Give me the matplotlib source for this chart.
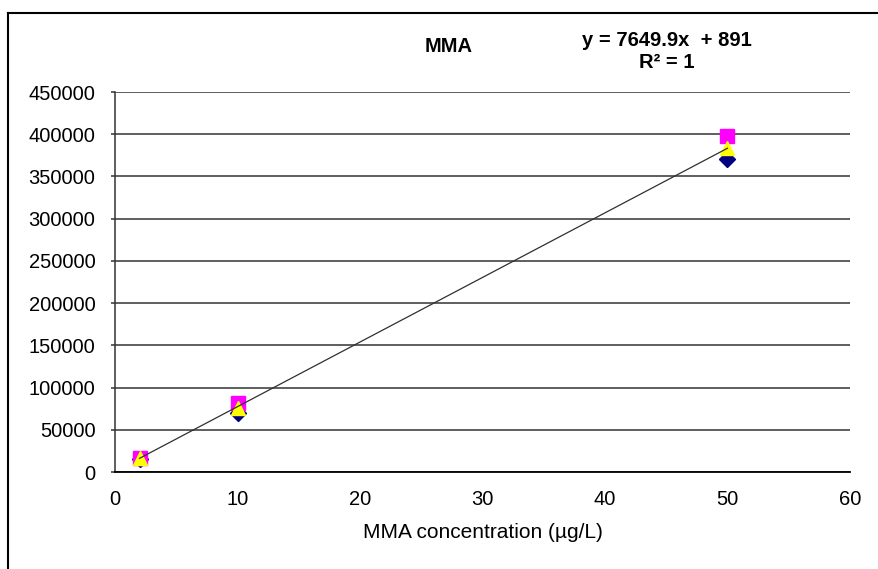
import numpy as np
import matplotlib.pyplot as plt
from matplotlib.lines import Line2D

plt.rcParams['font.family'] = ['Liberation Sans', 'DejaVu Sans']

# data
conc = [2, 10, 50]
series1 = [15500, 70000, 370500]   # navy diamonds
series2 = [17000, 81500, 397500]   # magenta squares
series3 = [16500, 76000, 384000]   # yellow triangles
slope, intercept = 7649.9, 891
eq_text = "y = 7649.9x  + 891\nR² = 1"

fig = plt.figure(figsize=(8.79, 5.69), dpi=100)
ax = fig.add_axes([115/879, 1 - 472/569, (850 - 115)/879, (472 - 92)/569])

ax.plot(conc, series1, linestyle='none', marker='D', ms=8, color='#000080', zorder=3)
ax.plot(conc, series2, linestyle='none', marker='s', ms=10.5, color='#ff00ff', zorder=4)
ax.plot(conc, series3, linestyle='none', marker='^', ms=10.5, color='#ffff00', zorder=5)

xt = np.array([min(conc), max(conc)])
ax.plot(xt, slope * xt + intercept, color='#303030', lw=0.9, zorder=6)

ax.set_xlim(0, 60)
ax.set_ylim(0, 450000)
ax.set_xticks(range(0, 61, 10))
ax.set_yticks(range(0, 450001, 50000))
ax.yaxis.grid(True, color='#333333', lw=1.1)
ax.set_axisbelow(True)
for s in ['top', 'right']:
    ax.spines[s].set_visible(False)
ax.spines['left'].set_color('#333333')
ax.spines['bottom'].set_color('#000000')
ax.spines['left'].set_linewidth(1.1)
ax.spines['bottom'].set_linewidth(1.3)
ax.tick_params(axis='y', length=3, width=1.1, color='#333333', labelsize=14.5, pad=11)
ax.tick_params(axis='x', length=0, labelsize=14.5, pad=13)
ax.set_xlabel("MMA concentration (µg/L)", fontsize=15, labelpad=10)

fig.text(449/879, 1 - 46/569, "MMA", ha='center', va='center', fontsize=14.5, fontweight='bold')
fig.text(667/879, 1 - 52/569, eq_text, ha='center', va='center', fontsize=14.5,
         fontweight='bold', linespacing=1.2)

# outer chart-area frame
fig.add_artist(Line2D([8/879, 1], [1 - 13/569, 1 - 13/569], color='black', lw=1.5))
fig.add_artist(Line2D([8/879, 8/879], [0, 1 - 13/569], color='black', lw=1.5))

fig.savefig('out.png', dpi=100)
